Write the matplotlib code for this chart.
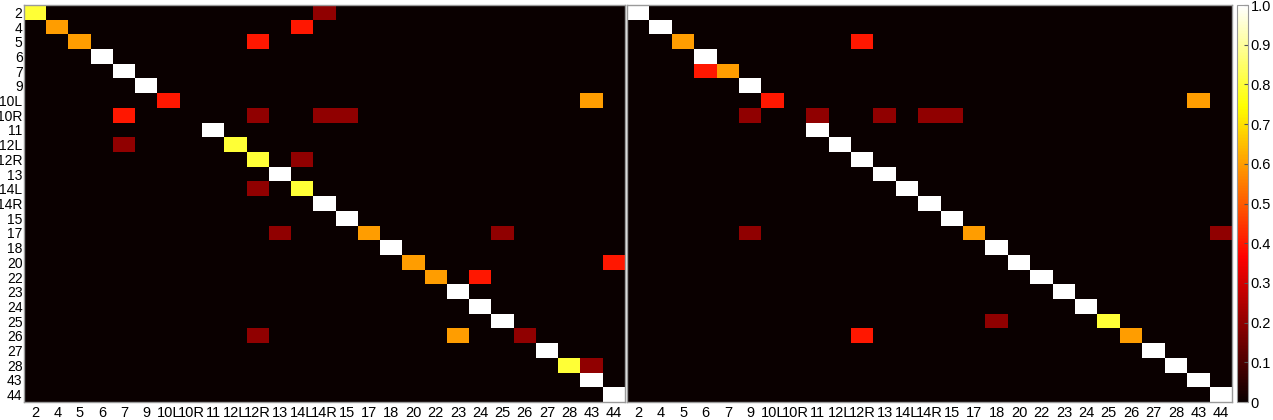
import matplotlib.pyplot as plt
import numpy as np

plt.rcParams["font.family"] = ["Liberation Sans", "DejaVu Sans"]

labels = ["2", "4", "5", "6", "7", "9", "10L", "10R", "11", "12L", "12R", "13",
          "14L", "14R", "15", "17", "18", "20", "22", "23", "24", "25", "26",
          "27", "28", "43", "44"]

# diagonal (correct) rates, one per class
left_diag = [0.8, 0.6, 0.6, 1.0, 1.0, 1.0, 0.4, 0.0, 1.0, 0.8, 0.8, 1.0, 0.8, 1.0,
             1.0, 0.6, 1.0, 0.6, 0.6, 1.0, 1.0, 1.0, 0.2, 1.0, 0.8, 1.0, 1.0]
right_diag = [1.0, 1.0, 0.6, 1.0, 0.6, 1.0, 0.4, 0.0, 1.0, 1.0, 1.0, 1.0, 1.0, 1.0,
              1.0, 0.6, 1.0, 1.0, 1.0, 1.0, 1.0, 0.8, 0.6, 1.0, 1.0, 1.0, 1.0]

# off-diagonal confusions: (true, predicted, rate)
left_off = [
    ("2", "14R", 0.2), ("4", "14L", 0.4), ("5", "12R", 0.4),
    ("10L", "43", 0.6),
    ("10R", "7", 0.4), ("10R", "12R", 0.2), ("10R", "14R", 0.2), ("10R", "15", 0.2),
    ("12L", "7", 0.2), ("12R", "14L", 0.2), ("14L", "12R", 0.2),
    ("17", "13", 0.2), ("17", "25", 0.2), ("20", "44", 0.4), ("22", "24", 0.4),
    ("26", "12R", 0.2), ("26", "23", 0.6), ("28", "43", 0.2),
]
right_off = [
    ("5", "12R", 0.4), ("7", "6", 0.4), ("10L", "43", 0.6),
    ("10R", "9", 0.2), ("10R", "11", 0.2), ("10R", "13", 0.2), ("10R", "14R", 0.2),
    ("10R", "15", 0.2),
    ("17", "9", 0.2), ("17", "44", 0.2), ("25", "18", 0.2), ("26", "12R", 0.4),
]


def build_matrix(diag, off):
    m = np.diag(np.array(diag, dtype=float))
    for r, c, v in off:
        m[labels.index(r), labels.index(c)] = v
    return m


def style_axes(ax, show_y):
    n = len(labels)
    ax.set_xticks(np.arange(n))
    ax.set_xticklabels(labels, fontsize=10.5)
    ax.set_yticks(np.arange(n))
    if show_y:
        ax.set_yticklabels(labels, fontsize=10)
    else:
        ax.set_yticklabels([])
    ax.tick_params(axis="x", length=0, pad=3)
    ax.tick_params(axis="y", length=0, pad=1)
    # faint matlab style ticks every 5 cells
    ax.set_xticks(np.arange(4, n, 5), minor=True)
    ax.set_yticks(np.arange(4, n, 5), minor=True)
    ax.tick_params(which="minor", direction="in", length=3, color="#555555",
                   top=True, right=True)
    for s in ax.spines.values():
        s.set_color("#9a9a9a")
        s.set_linewidth(1.0)


fig = plt.figure(figsize=(12.73, 4.20), dpi=100)
ax1 = fig.add_axes([24 / 1273, 18 / 420, 601 / 1273, 397 / 420])
ax2 = fig.add_axes([627 / 1273, 18 / 420, 605 / 1273, 397 / 420])
cax = fig.add_axes([1237 / 1273, 18 / 420, 11 / 1273, 397 / 420])

m1 = build_matrix(left_diag, left_off)
m2 = build_matrix(right_diag, right_off)

ax1.imshow(m1, cmap="hot", vmin=0, vmax=1, aspect="auto", interpolation="nearest")
im = ax2.imshow(m2, cmap="hot", vmin=0, vmax=1, aspect="auto", interpolation="nearest")
style_axes(ax1, True)
style_axes(ax2, False)

cb = fig.colorbar(im, cax=cax)
cb.set_ticks(np.arange(0, 1.01, 0.1))
cb.set_ticklabels(["0"] + [f"{v:.1f}" for v in np.arange(0.1, 1.01, 0.1)])
cb.ax.tick_params(labelsize=10.5, direction="in", length=3, color="#555555", pad=2)
cb.outline.set_edgecolor("#9a9a9a")

fig.savefig("out.png", dpi=100)
